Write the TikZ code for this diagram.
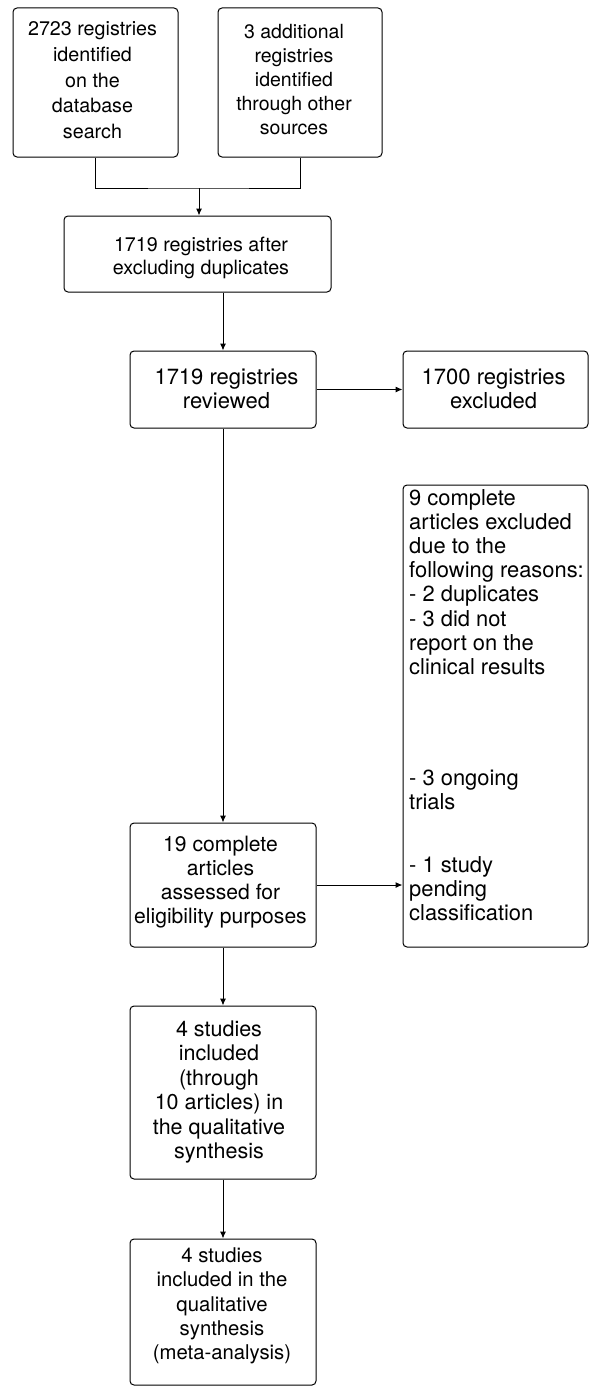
\documentclass[tikz,border=0pt]{standalone}
\usepackage{fontspec}
\setmainfont{TeX Gyre Heros}
\usetikzlibrary{arrows.meta}
\tikzset{
  boxsty/.style={draw, line width=1pt, rounded corners=4pt, inner sep=0pt},
  txt/.style={inner sep=0pt, anchor=base},
  txtl/.style={inner sep=0pt, anchor=base west},
  arr/.style={line width=1pt, -{Latex[length=7pt,width=6pt]}},
  ln/.style={line width=1pt}
}
\begin{document}
\begin{tikzpicture}[x=1pt,y=-1pt]
\useasboundingbox (0,0) rectangle (589,1386);
% boxes
\node[boxsty, minimum width=165pt, minimum height=149pt] (b1) at (95.5,82.5) {};
\node[boxsty, minimum width=164pt, minimum height=149pt] (b2) at (300,82.5) {};
\node[boxsty, minimum width=267pt, minimum height=76pt] (b3) at (197.5,254) {};
\node[boxsty, minimum width=186pt, minimum height=77pt] (b4) at (223,389.5) {};
\node[boxsty, minimum width=185pt, minimum height=77pt] (b5) at (495.5,389.5) {};
\node[boxsty, minimum width=185pt, minimum height=462pt] (b6) at (495.5,716) {};
\node[boxsty, minimum width=186pt, minimum height=124pt] (b7) at (223,885) {};
\node[boxsty, minimum width=186pt, minimum height=173pt] (b8) at (223,1092.5) {};
\node[boxsty, minimum width=186pt, minimum height=146pt] (b9) at (223,1312) {};
% texts
\node[txt] (t1) at (92.5,36) {\fontsize{19.7}{25.6}\selectfont\begin{tabular}[t]{@{}c@{}}2723 registries\\identified\\on the\\database\\search\end{tabular}};
\node[txt] (t2) at (294,38.5) {\fontsize{19.5}{24}\selectfont\begin{tabular}[t]{@{}c@{}}3 additional\\registries\\identified\\through other\\sources\end{tabular}};
\node[txt] (t3) at (201,251.5) {\fontsize{19.7}{23.3}\selectfont\begin{tabular}[t]{@{}c@{}}1719 registries after\\excluding duplicates\end{tabular}};
\node[txt] (t4) at (226.5,384.5) {\fontsize{22}{24}\selectfont\begin{tabular}[t]{@{}c@{}}1719 registries\\reviewed\end{tabular}};
\node[txt] (t5) at (493.7,384.5) {\fontsize{22}{24}\selectfont\begin{tabular}[t]{@{}c@{}}1700 registries\\excluded\end{tabular}};
\node[txtl] (t6) at (409,505) {\fontsize{21.9}{24.2}\selectfont\begin{tabular}[t]{@{}l@{}}9 complete\\articles excluded\\due to the\\following reasons:\\- 2 duplicates\\- 3 did not\\report on the\\clinical results\\[86.4pt]- 3 ongoing\\trials\\[38.6pt]- 1 study\\pending\\classification\end{tabular}};
\node[txt] (t7) at (220.5,851.5) {\fontsize{21.1}{24}\selectfont\begin{tabular}[t]{@{}c@{}}19 complete\\articles\\assessed for\\eligibility purposes\end{tabular}};
\node[txt] (t8) at (219,1036.5) {\fontsize{21.5}{24.4}\selectfont\begin{tabular}[t]{@{}c@{}}4 studies\\included\\(through\\10 articles) in\\the qualitative\\synthesis\end{tabular}};
\node[txt] (t9) at (222,1262.5) {\fontsize{20.3}{24.3}\selectfont\begin{tabular}[t]{@{}c@{}}4 studies\\included in the\\qualitative\\synthesis\\(meta-analysis)\end{tabular}};
% connectors
\coordinate (j) at (199,188);
\draw[ln] (b1.south) |- (j) -| (b2.south);
\draw[arr] (j) -- (j |- b3.north);
\draw[arr] (b3.south -| b4.north) -- (b4.north);
\draw[arr] (b4.east) -- (b5.west);
\draw[arr] (b4.south) -- (b7.north);
\draw[arr] (b7.east) -- (b7.east -| b6.west);
\draw[arr] (b7.south) -- (b8.north);
\draw[arr] (b8.south) -- (b9.north);
\end{tikzpicture}
\end{document}
